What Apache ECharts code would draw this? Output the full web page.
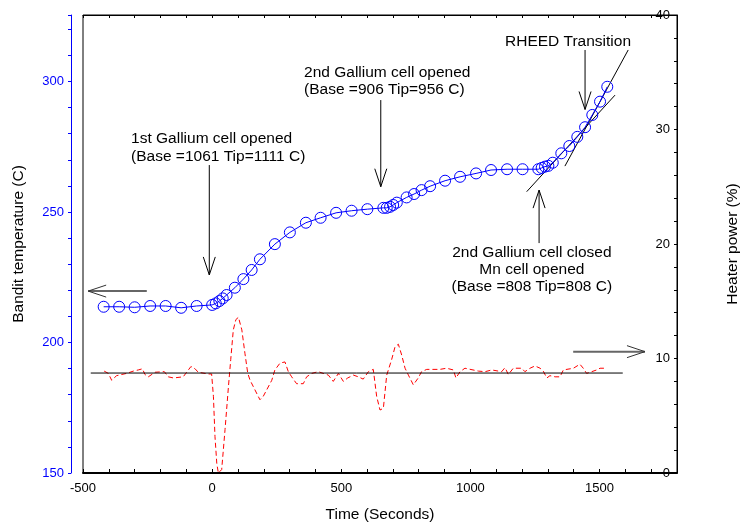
<!DOCTYPE html>
<html>
<head>
<meta charset="utf-8">
<script src="https://cdn.jsdelivr.net/npm/echarts@6/dist/echarts.min.js"></script>
<style>html,body{margin:0;padding:0;background:#fff}#c{width:740px;height:523px}</style>
</head>
<body>
<div id="c"></div>
<script>
// ---- Data ----
const xTickLabels = [-500, 0, 500, 1000, 1500];
const leftTickLabels = [150, 200, 250, 300];
const rightTickLabels = [0, 10, 20, 30, 40];

// Bandit temperature (C), blue circles, left axis
const tempTime = [-420,-360,-300,-240,-180,-120,-60,0,14,28,41,56,88,121,153,185,243,301,363,420,480,540,601,663,676,689,701,715,753,782,811,844,902,960,1022,1080,1142,1202,1263,1276,1289,1302,1319,1352,1383,1414,1444,1472,1502,1530];
const tempValue = [213.7,213.7,213.5,214,214,213.3,214,214.4,215.0,215.9,216.9,218.2,221.0,224.3,227.8,231.9,237.7,242.2,245.9,247.8,249.7,250.5,251.1,251.6,251.6,252.0,252.7,253.6,255.6,256.9,258.4,259.9,262.0,263.5,264.8,266.1,266.4,266.4,266.4,266.9,267.4,267.7,268.9,272.5,275.3,278.8,282.5,287.2,292.3,298.0];

// Heater power (%), red dashed, right axis
const heaterTime = [-418,-402,-389,-370,-331,-305,-286,-270,-260,-247,-221,-185,-170,-150,-112,-92,-82,-66,-54,-15,-2,5,11,18,24,37,50,63,72,82,92,102,115,127,138,147,166,185,198,211,231,243,263,282,295,308,327,353,366,386,411,430,450,469,489,508,525,547,566,585,605,624,637,650,663,676,695,708,721,734,747,760,779,798,811,831,882,908,934,944,960,979,1031,1057,1083,1121,1134,1147,1166,1199,1211,1231,1250,1270,1282,1296,1308,1328,1347,1360,1399,1424,1437,1450,1470,1489,1502,1528];
const heaterValue = [8.9,8.7,8.1,8.5,8.7,8.9,9.0,9.1,8.6,8.4,8.8,8.85,8.4,8.3,8.4,9.0,9.3,9.1,8.8,8.65,8.65,6.7,3.2,0.85,0.0,0.3,3.8,7.5,9.9,12.5,13.4,13.6,12.5,10.45,8.7,8.1,7.25,6.4,6.7,7.25,8.1,9.0,9.6,9.7,8.85,8.4,7.8,7.8,8.4,8.7,8.85,8.7,8.55,8.0,8.7,8.0,8.3,8.55,8.4,8.2,8.85,9.05,6.7,5.5,5.65,8.55,9.9,11.0,11.25,10.3,9.15,8.55,7.7,8.3,8.85,9.05,9.05,9.15,9.0,8.3,8.85,9.15,8.9,8.85,9.0,8.85,9.2,8.6,9.15,9.15,8.85,9.15,9.35,9.15,8.9,8.3,8.5,8.4,8.4,9.0,9.15,9.5,9.15,8.7,8.85,9.0,9.15,9.15];

// Reference level (right axis)
const baseTime = [-470, 1590];
const baseValue = [8.73, 8.73];

// Tangent lines near RHEED transition (left axis)
const tangent1Time = [1218, 1560];
const tangent1Value = [257.8, 294.8];
const tangent2Time = [1366, 1611];
const tangent2Value = [267.6, 312.1];

// Arrows in data coordinates (left axis): [x1, y1, x2(tip), y2(tip)]
const arrows = [
  [-253, 219.7, -480, 219.7],
  [1398, 196.5, 1676, 196.5],
  [-11, 268.0, -11, 225.9],
  [653, 292.9, 653, 259.7],
  [1266, 238.1, 1266, 258.4],
  [1444, 312.1, 1444, 289.3]
];
const arrowGray = [true, true, false, false, false, false];

// Annotation texts in data coordinates (left axis)
const notes = [
  [-314, 278.0], [-314, 271.1],
  [356, 303.3], [356, 296.7],
  [1134, 315.1],
  [1238, 234.3], [1238, 227.8], [1238, 221.3]
];
const noteText = [
  '1st Gallium cell opened', '(Base =1061 Tip=1111 C)',
  '2nd Gallium cell opened', '(Base =906 Tip=956 C)',
  'RHEED Transition',
  '2nd Gallium cell closed', 'Mn cell opened', '(Base =808 Tip=808 C)'
];
const noteAlign = ['left','left','left','left','left','center','center','center'];

// ---- Chart ----
const FONT = '"Liberation Sans", Arial, sans-serif';
const zip = (a, b) => a.map((v, i) => [v, b[i]]);

const chart = echarts.init(document.getElementById('c'), null, {renderer: 'canvas'});
chart.setOption({
  animation: false,
  backgroundColor: '#fff',
  textStyle: {fontFamily: FONT},
  grid: {left: 83, right: 63, top: 15, bottom: 50, containLabel: false, outerBoundsMode: 'none',
    show: true, borderColor: '#000', borderWidth: 1, backgroundColor: 'transparent'},
  xAxis: [{
    type: 'value', position: 'bottom', min: -500, max: 1800, interval: 100,
    name: 'Time (Seconds)', nameLocation: 'middle', nameGap: 34,
    nameTextStyle: {fontSize: 15.5, color: '#000', fontFamily: FONT},
    axisLine: {show: true, onZero: false, lineStyle: {color: '#000', width: 2}},
    axisTick: {show: true, inside: true, length: 4, lineStyle: {color: '#000'}},
    axisLabel: {fontSize: 13, color: '#000', margin: 9, fontFamily: FONT,
      formatter: v => xTickLabels.includes(v) ? String(v) : ''},
    splitLine: {show: false}
  }, {
    type: 'value', position: 'top', min: -500, max: 1800, interval: 100,
    axisLine: {show: true, onZero: false, lineStyle: {color: '#000', width: 1}},
    axisTick: {show: true, inside: true, length: 3, lineStyle: {color: '#000'}},
    axisLabel: {show: false}, splitLine: {show: false}
  }],
  yAxis: [{
    type: 'value', position: 'left', offset: 12, min: 150, max: 325.5, interval: 10,
    name: 'Bandit temperature (C)', nameLocation: 'middle', nameGap: 44, nameRotate: 90,
    nameTextStyle: {fontSize: 15.5, color: '#000', fontFamily: FONT},
    axisLine: {show: true, onZero: false, lineStyle: {color: '#0000ff', width: 1}},
    axisTick: {show: true, inside: false, length: 3, lineStyle: {color: '#0000ff'}},
    axisLabel: {fontSize: 13, color: '#0000ff', margin: 7, fontFamily: FONT,
      formatter: v => leftTickLabels.includes(v) ? String(v) : ''},
    splitLine: {show: false}
  }, {
    type: 'value', position: 'right', min: 0, max: 40, interval: 2,
    name: 'Heater power (%)', nameLocation: 'middle', nameGap: 48, nameRotate: 90,
    nameTextStyle: {fontSize: 15.5, color: '#000', fontFamily: FONT},
    axisLine: {show: true, onZero: false, lineStyle: {color: '#000', width: 1}},
    axisTick: {show: true, inside: true, length: 3, lineStyle: {color: '#000'}},
    axisLabel: {inside: true, fontSize: 13, color: '#000', margin: 7, fontFamily: FONT,
      formatter: v => rightTickLabels.includes(v) ? String(v) : ''},
    splitLine: {show: false}
  }],
  series: [
    {
      type: 'line', name: 'heater', xAxisIndex: 0, yAxisIndex: 1,
      data: zip(heaterTime, heaterValue), showSymbol: false, symbol: 'none',
      lineStyle: {color: '#ff0000', width: 1, type: [5, 3]}, z: 2
    },
    {
      type: 'line', name: 'base', xAxisIndex: 0, yAxisIndex: 1,
      data: zip(baseTime, baseValue), symbol: 'none',
      lineStyle: {color: '#000', width: 1}, z: 3
    },
    {
      type: 'line', name: 'tan1', xAxisIndex: 0, yAxisIndex: 0,
      data: zip(tangent1Time, tangent1Value), symbol: 'none',
      lineStyle: {color: '#000', width: 1}, z: 3
    },
    {
      type: 'line', name: 'tan2', xAxisIndex: 0, yAxisIndex: 0,
      data: zip(tangent2Time, tangent2Value), symbol: 'none',
      lineStyle: {color: '#000', width: 1}, z: 3
    },
    {
      type: 'line', name: 'temp', xAxisIndex: 0, yAxisIndex: 0,
      data: zip(tempTime, tempValue), symbol: 'circle', symbolSize: 11, showAllSymbol: true,
      lineStyle: {color: '#0000ff', width: 1},
      itemStyle: {color: 'rgba(0,0,0,0)', borderColor: '#0000ff', borderWidth: 1},
      z: 4
    },
    {
      type: 'custom', name: 'arrows', xAxisIndex: 0, yAxisIndex: 0, clip: false, silent: true,
      data: arrows,
      encode: {x: [0, 2], y: [1, 3]},
      renderItem: function (params, api) {
        const p1 = api.coord([api.value(0), api.value(1)]);
        const p2 = api.coord([api.value(2), api.value(3)]);
        const dx = p2[0] - p1[0], dy = p2[1] - p1[1];
        const L = Math.hypot(dx, dy), ux = dx / L, uy = dy / L;
        const hl = 18, hw = 6;
        const b = [p2[0] - ux * hl, p2[1] - uy * hl];
        const h1 = [b[0] - uy * hw, b[1] + ux * hw];
        const h2 = [b[0] + uy * hw, b[1] - ux * hw];
        const gray = arrowGray[params.dataIndex];
        const col = gray ? '#666' : '#000';
        return {type: 'group', children: [
          {type: 'line', shape: {x1: p1[0], y1: p1[1], x2: p2[0], y2: p2[1]}, style: {stroke: col, lineWidth: gray ? 2 : 1}},
          {type: 'polyline', shape: {points: [h1, p2, h2]}, style: {stroke: gray ? '#333' : '#000', lineWidth: 1, fill: null}}
        ]};
      },
      z: 5
    },
    {
      type: 'custom', name: 'notes', xAxisIndex: 0, yAxisIndex: 0, clip: false, silent: true,
      data: notes,
      encode: {x: 0, y: 1},
      renderItem: function (params, api) {
        const p = api.coord([api.value(0), api.value(1)]);
        return {type: 'text', x: p[0], y: p[1], style: {
          text: noteText[params.dataIndex], fill: '#000', fontSize: 15.5, fontFamily: FONT,
          align: noteAlign[params.dataIndex], verticalAlign: 'middle'
        }};
      },
      z: 6
    }
  ]
});
</script>
</body>
</html>
